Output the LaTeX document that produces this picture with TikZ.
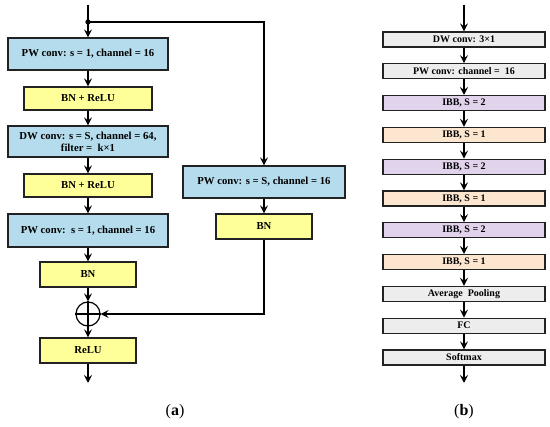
\documentclass[tikz,border=0pt]{standalone}
\usepackage{fontspec}
\setmainfont{Liberation Serif}
\usetikzlibrary{arrows.meta}
\definecolor{cblue}{HTML}{B4DCEC}
\definecolor{cyellow}{HTML}{FFFF99}
\definecolor{cgray}{HTML}{EDEDED}
\definecolor{cpurple}{HTML}{E2D3EC}
\definecolor{corange}{HTML}{FDE6CF}
\definecolor{cline}{HTML}{222222}
\begin{document}
\begin{tikzpicture}[x=1pt,y=-1pt,
  blk/.style={draw=cline, line width=1.2pt, inner sep=1pt, align=center, font=\bfseries\fontsize{10.7}{12}\selectfont},
  wide/.style={blk, minimum width=160pt},
  bluebox/.style={fill=cblue},
  yelbox/.style={fill=cyellow},
  sbox/.style={draw=cline, line width=1.2pt, inner sep=0pt, minimum width=162pt, minimum height=15pt, font=\bfseries\fontsize{10}{11}\selectfont},
  arr/.style={line width=1.3pt, -{Stealth[length=8pt,width=8pt,inset=3pt]}},
  ln/.style={line width=1.3pt}]
\useasboundingbox (0,0) rectangle (550,427);
% (a)
\coordinate (in) at (88,5);
\coordinate (j) at (88,22);
\node[wide, bluebox, minimum height=32pt] (p1) at (88,54) {PW conv: s = 1, channel = 16};
\node[blk, yelbox, minimum width=128pt, minimum height=23pt] (b1) at (88,98.5) {BN + ReLU};
\node[wide, bluebox, minimum height=31pt] (d1) at (88,141.5) {DW conv: s = S, channel = 64,\\filter =\ \ k×1};
\node[blk, yelbox, minimum width=128pt, minimum height=23pt] (b2) at (88,185.5) {BN + ReLU};
\node[wide, bluebox, minimum height=33pt] (p2) at (88,230.5) {PW conv:\ \ s = 1, channel = 16};
\node[blk, yelbox, minimum width=96pt, minimum height=25pt] (b3) at (88,274.5) {BN};
\node[circle, draw=black, line width=1.2pt, minimum size=24pt, inner sep=0pt] (plus) at (88,314) {};
\draw[line width=1.2pt] (plus.north) -- (plus.south) (plus.west) -- (plus.east);
\node[blk, yelbox, minimum width=96pt, minimum height=25pt] (r1) at (88,350.5) {ReLU};
\coordinate (out) at (88,383);
\node[blk, bluebox, minimum width=162pt, minimum height=32pt] (ps) at (264,182) {PW conv: s = S, channel = 16};
\node[blk, yelbox, minimum width=96pt, minimum height=25pt] (bs) at (264,226.5) {BN};
\coordinate (jr) at (264,22);
\coordinate (cr) at (264,314);
\draw[ln] (in) -- (j);
\draw[arr] (j) -- (p1.north);
\fill (j) circle (2.7pt);
\draw[arr] (j) -- (jr) -- (ps.north);
\draw[arr] (p1) -- (b1);
\draw[arr] (b1) -- (d1);
\draw[arr] (d1) -- (b2);
\draw[arr] (b2) -- (p2);
\draw[arr] (p2) -- (b3);
\draw[arr] (b3) -- (plus.north);
\draw[arr] (plus.north) -- (r1.north);
\draw[arr] (r1) -- (out);
\draw[arr] (ps) -- (bs);
\draw[arr] (bs.south) -- (cr) -- (plus.east);
\node[font=\fontsize{16}{18}\selectfont] (la) at (175,412) {({\bfseries a})};
% (b)
\coordinate (inb) at (464,5);
\node[sbox, fill=cgray] (n1) at (464,39.5) {DW conv: 3×1};
\node[sbox, fill=cgray] (n2) at (464,71.3) {PW conv: channel =\ \ 16};
\node[sbox, fill=cpurple] (n3) at (464,103.1) {IBB, S = 2};
\node[sbox, fill=corange] (n4) at (464,134.9) {IBB, S = 1};
\node[sbox, fill=cpurple] (n5) at (464,166.7) {IBB, S = 2};
\node[sbox, fill=corange] (n6) at (464,198.5) {IBB, S = 1};
\node[sbox, fill=cpurple] (n7) at (464,230.3) {IBB, S = 2};
\node[sbox, fill=corange] (n8) at (464,262.1) {IBB, S = 1};
\node[sbox, fill=cgray] (n9) at (464,293.9) {Average\ \ Pooling};
\node[sbox, fill=cgray] (n10) at (464,325.7) {FC};
\node[sbox, fill=cgray] (n11) at (464,357.5) {Softmax};
\coordinate (outb) at (464,383);
\draw[arr] (inb) -- (n1);
\foreach \a/\b in {n1/n2,n2/n3,n3/n4,n4/n5,n5/n6,n6/n7,n7/n8,n8/n9,n9/n10,n10/n11} \draw[arr] (\a) -- (\b);
\draw[arr] (n11) -- (outb);
\node[font=\fontsize{16}{18}\selectfont] (lb) at (464,412) {({\bfseries b})};
\end{tikzpicture}
\end{document}
